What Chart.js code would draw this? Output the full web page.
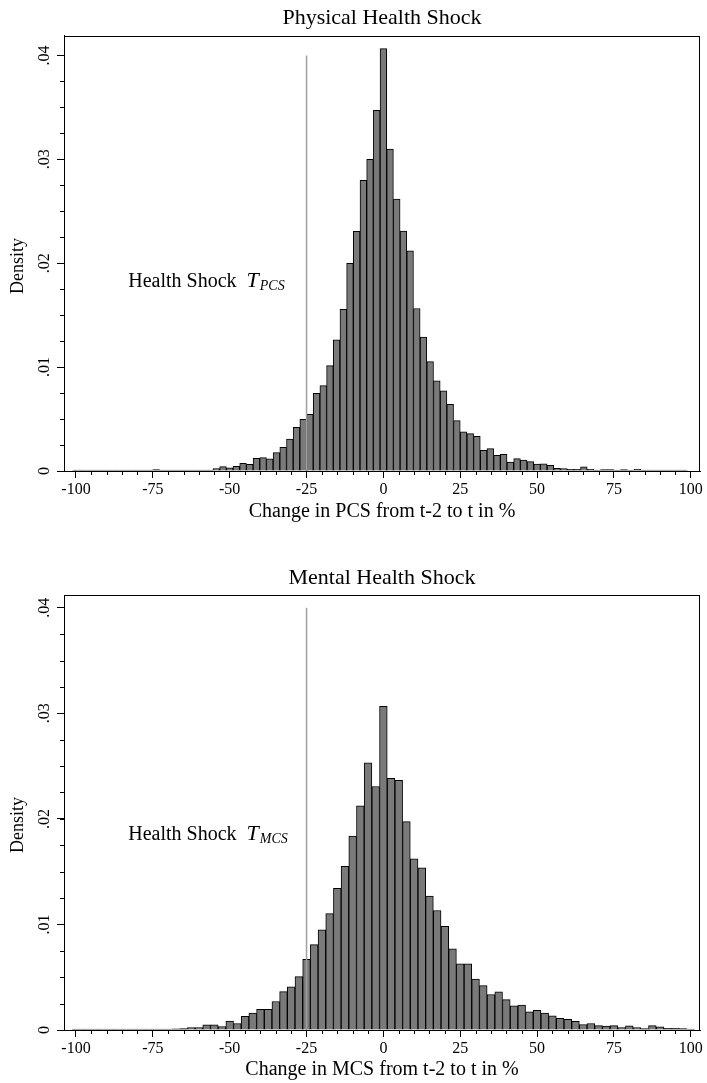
<!DOCTYPE html>
<html>
<head>
<meta charset="utf-8">
<script src="https://cdn.jsdelivr.net/npm/chart.js@4.4.1/dist/chart.umd.min.js"></script>
<style>
  html, body { margin: 0; padding: 0; background: #fff; }
  .wrap { position: relative; width: 707px; }
</style>
</head>
<body>
<div class="wrap" style="height:559px"><canvas id="pcsChart"></canvas></div>
<div class="wrap" style="height:524px"><canvas id="mcsChart"></canvas></div>
<script>
// bin centres (bin width 50/23) and densities, physical health (PCS)
var pcsBins = [-100, -97.83, -95.65, -93.48, -91.30, -89.13, -86.96, -84.78, -82.61, -80.43,
  -78.26, -76.09, -73.91, -71.74, -69.57, -67.39, -65.22, -63.04, -60.87, -58.70,
  -56.52, -54.35, -52.17, -50.00, -47.83, -45.65, -43.48, -41.30, -39.13, -36.96,
  -34.78, -32.61, -30.43, -28.26, -26.09, -23.91, -21.74, -19.57, -17.39, -15.22,
  -13.04, -10.87, -8.70, -6.52, -4.35, -2.17, 0, 2.17, 4.35, 6.52,
  8.70, 10.87, 13.04, 15.22, 17.39, 19.57, 21.74, 23.91, 26.09, 28.26,
  30.43, 32.61, 34.78, 36.96, 39.13, 41.30, 43.48, 45.65, 47.83, 50.00,
  52.17, 54.35, 56.52, 58.70, 60.87, 63.04, 65.22, 67.39, 69.57, 71.74,
  73.91, 76.09, 78.26, 80.43, 82.61, 84.78, 86.96, 89.13, 91.30, 93.48,
  95.65, 97.83];
var pcsDensity = [0, 0, 0, 0, 0, 0, 0, 0, 0, 0,
  0, 0, 0.00013, 0, 0, 0.0001, 0.00006, 0.00006, 0.00006, 0.00006,
  0.0001, 0.00024, 0.00042, 0.0003, 0.00046, 0.00074, 0.00063, 0.00122, 0.00128, 0.00117,
  0.00177, 0.00228, 0.00308, 0.00421, 0.00498, 0.00546, 0.00748, 0.00822, 0.01015, 0.01262,
  0.01557, 0.0200, 0.02306, 0.02797, 0.0300, 0.03471, 0.04066, 0.03099, 0.02617, 0.02309,
  0.0212, 0.01564, 0.01288, 0.01053, 0.00867, 0.00771, 0.00642, 0.00485, 0.00376, 0.0036,
  0.00334, 0.00199, 0.00215, 0.00151, 0.00161, 0.00087, 0.00119, 0.00106, 0.0009, 0.00067,
  0.0007, 0.00055, 0.00026, 0.00024, 0.00016, 0.00016, 0.00039, 0.00016, 0.0001, 0.00013,
  0.00013, 0.00006, 0.00013, 0.00006, 0.00016, 0.0001, 0.00006, 0.00006, 0.00003, 0.00006,
  0.00003, 0.00003];

// bin centres (bin width 2.5) and densities, mental health (MCS)
var mcsBins = [-100, -97.5, -95, -92.5, -90, -87.5, -85, -82.5, -80, -77.5,
  -75, -72.5, -70, -67.5, -65, -62.5, -60, -57.5, -55, -52.5,
  -50, -47.5, -45, -42.5, -40, -37.5, -35, -32.5, -30, -27.5,
  -25, -22.5, -20, -17.5, -15, -12.5, -10, -7.5, -5, -2.5,
  0, 2.5, 5, 7.5, 10, 12.5, 15, 17.5, 20, 22.5,
  25, 27.5, 30, 32.5, 35, 37.5, 40, 42.5, 45, 47.5,
  50, 52.5, 55, 57.5, 60, 62.5, 65, 67.5, 70, 72.5,
  75, 77.5, 80, 82.5, 85, 87.5, 90, 92.5, 95, 97.5, 100];
var mcsDensity = [0, 0.00003, 0, 0.00003, 0.00003, 0, 0, 0.00003, 0.00003, 0.00003,
  0.00003, 0.00003, 0.00007, 0.0001, 0.00013, 0.00023, 0.00023, 0.00049, 0.00049, 0.00033,
  0.00085, 0.00062, 0.0013, 0.0016, 0.00196, 0.00196, 0.0027, 0.00363, 0.0041, 0.00505,
  0.00669, 0.00809, 0.00949, 0.01103, 0.01341, 0.0155, 0.01837, 0.02124, 0.02532, 0.02307,
  0.03067, 0.02385, 0.02365, 0.01974, 0.01622, 0.01537, 0.01269, 0.01132, 0.00982, 0.0077,
  0.00626, 0.00626, 0.00483, 0.00421, 0.00336, 0.00362, 0.00287, 0.00228, 0.00235, 0.00173,
  0.00186, 0.0016, 0.00134, 0.00111, 0.00101, 0.00082, 0.00052, 0.00062, 0.00042, 0.00036,
  0.00042, 0.00023, 0.00039, 0.00023, 0.00013, 0.00042, 0.00029, 0.00016, 0.00016, 0.00013,
  0.00007];

// axis labels and the shock threshold line
var xTickValues = [-100, -75, -50, -25, 0, 25, 50, 75, 100];
var yTickValues = [0, 0.01, 0.02, 0.03, 0.04];
var yTickLabels = ['0', '.01', '.02', '.03', '.04'];
var shockLine = [{ x: -25, y: 0 }, { x: -25, y: 0.04 }];

Chart.defaults.font.family = '"Liberation Serif", "Times New Roman", serif';
Chart.defaults.color = '#000';

// frame, minor ticks, y title and the "Health Shock T" note
var stataExtras = {
  id: 'stataExtras',
  afterDraw: function(chart) {
    var o = chart.options.plugins.stataExtras;
    var ctx = chart.ctx, a = chart.chartArea;
    var xs = chart.scales.x, ys = chart.scales.y;
    ctx.save();
    ctx.strokeStyle = '#000';
    ctx.lineWidth = 1;
    ctx.strokeRect(Math.round(a.left) + 0.5, Math.round(a.top) + 0.5,
      Math.round(a.right - a.left) - 1, Math.round(a.bottom - a.top));
    ctx.beginPath();
    for (var v = -95; v < 100; v += 5) {
      if (v % 25 === 0) continue;
      var px = Math.round(xs.getPixelForValue(v)) + 0.5;
      ctx.moveTo(px, a.bottom);
      ctx.lineTo(px, a.bottom + 4);
    }
    for (var t = 0.0025; t < 0.04; t += 0.0025) {
      var py = Math.round(ys.getPixelForValue(t)) + 0.5;
      ctx.moveTo(a.left, py);
      ctx.lineTo(a.left - 4, py);
    }
    ctx.stroke();

    // y axis title, a little below the middle of the axis
    ctx.fillStyle = '#000';
    ctx.save();
    ctx.translate(18, a.bottom - 205);
    ctx.rotate(-Math.PI / 2);
    ctx.textAlign = 'center';
    ctx.textBaseline = 'middle';
    ctx.font = '18px "Liberation Serif"';
    ctx.fillText('Density', 0, 0);
    ctx.restore();

    var x0 = xs.getPixelForValue(o.noteX), y0 = ys.getPixelForValue(o.noteY);
    ctx.textAlign = 'left';
    ctx.textBaseline = 'alphabetic';
    ctx.font = '20px "Liberation Serif"';
    ctx.fillText('Health Shock', x0, y0);
    var tx = x0 + ctx.measureText('Health Shock').width + 10;
    ctx.font = 'italic 22px "Liberation Serif"';
    ctx.fillText('T', tx, y0);
    var sx = tx + ctx.measureText('T').width + 1;
    ctx.font = 'italic 14px "Liberation Serif"';
    ctx.fillText(o.sub, sx, y0 + 3);
    ctx.restore();
  }
};

function makeChart(id, bins, density, s) {
  var points = bins.map(function(b, i) { return { x: b, y: density[i] }; });
  return new Chart(document.getElementById(id), {
    type: 'bar',
    data: {
      datasets: [{
        type: 'line',
        data: shockLine,
        borderColor: '#a0a0a0',
        borderWidth: 1.5,
        pointRadius: 0,
        order: 0
      }, {
        data: points,
        backgroundColor: '#7a7a7a',
        borderColor: '#000',
        borderWidth: 1,
        barPercentage: 1,
        categoryPercentage: 1,
        minBarLength: 1,
        order: 1
      }]
    },
    options: {
      responsive: true,
      maintainAspectRatio: false,
      devicePixelRatio: 1,
      animation: false,
      events: [],
      layout: { padding: { left: 0, right: 7, top: 0, bottom: 0 } },
      plugins: {
        legend: { display: false },
        tooltip: { enabled: false },
        title: {
          display: true,
          text: s.title,
          fullSize: false,
          color: '#000',
          font: { size: 22, weight: 'normal', lineHeight: 1.2 },
          padding: { top: s.titleTop, bottom: s.titleBottom }
        },
        stataExtras: { noteX: -83, noteY: s.noteY, sub: s.sub }
      },
      scales: {
        x: {
          type: 'linear',
          min: -103.9,
          max: 103.0,
          offset: false,
          afterFit: function(sc) { sc.height = s.height - 471; },
          afterBuildTicks: function(sc) {
            sc.ticks = xTickValues.map(function(v) { return { value: v }; });
          },
          ticks: {
            autoSkip: false,
            maxRotation: 0,
            padding: 2,
            font: { size: 16 },
            callback: function(v) { return String(v); }
          },
          grid: { offset: false, drawOnChartArea: false, tickLength: 7, tickColor: '#000' },
          border: { display: true, color: '#000', width: 1 },
          title: {
            display: true,
            text: s.xTitle,
            font: { size: 20, lineHeight: 1.2 },
            padding: { top: 0, bottom: s.xTitleBottom }
          }
        },
        y: {
          min: 0,
          max: s.yMax,
          afterFit: function(sc) { sc.width = 64; },
          afterBuildTicks: function(sc) {
            sc.ticks = yTickValues.map(function(v) { return { value: v }; });
          },
          ticks: {
            autoSkip: false,
            minRotation: 90,
            maxRotation: 90,
            crossAlign: 'center',
            padding: 2,
            font: { size: 16 },
            callback: function(v, i) { return yTickLabels[i]; }
          },
          grid: { drawOnChartArea: false, tickLength: 7, tickColor: '#000' },
          border: { display: true, color: '#000', width: 1 },
          title: { display: false }
        }
      }
    },
    plugins: [stataExtras]
  });
}

makeChart('pcsChart', pcsBins, pcsDensity, {
  title: 'Physical Health Shock', titleTop: 5, titleBottom: 4.3,
  xTitle: 'Change in PCS from t-2 to t in %', xTitleBottom: 35,
  height: 559, yMax: 0.0419, noteY: 0.0177, sub: 'PCS'
});
makeChart('mcsChart', mcsBins, mcsDensity, {
  title: 'Mental Health Shock', titleTop: 6.5, titleBottom: 3.2,
  xTitle: 'Change in MCS from t-2 to t in %', xTitleBottom: 1,
  height: 524, yMax: 0.0412, noteY: 0.018, sub: 'MCS'
});
</script>
</body>
</html>
